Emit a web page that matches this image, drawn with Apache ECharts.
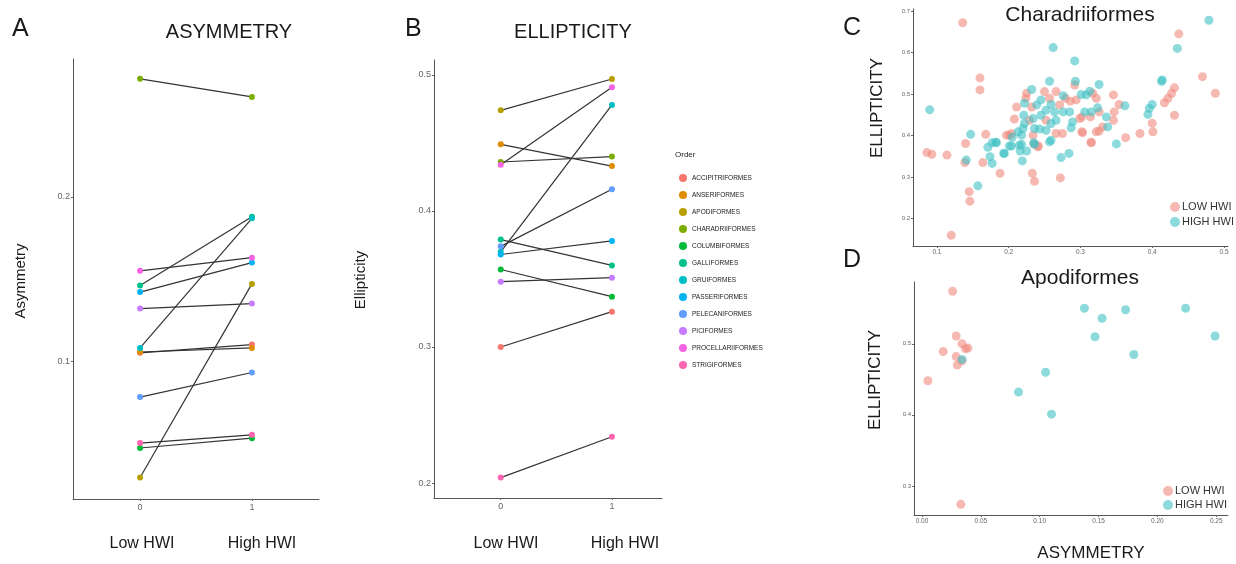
<!DOCTYPE html>
<html>
<head>
<meta charset="utf-8">
<script src="https://cdn.jsdelivr.net/npm/echarts@6/dist/echarts.min.js"></script>
<style>
html,body{margin:0;padding:0;background:#fff;}
#chart{width:1236px;height:564px;}
</style>
</head>
<body>
<div id="chart"></div>
<script>
// ---------- DATA ----------
const orders = ['ACCIPITRIFORMES','ANSERIFORMES','APODIFORMES','CHARADRIIFORMES','COLUMBIFORMES','GALLIFORMES','GRUIFORMES','PASSERIFORMES','PELECANIFORMES','PICIFORMES','PROCELLARIIFORMES','STRIGIFORMES'];
const orderColors = ['#F8766D','#DE8C00','#B79F00','#7CAE00','#00BA38','#00C08B','#00BFC4','#00B4F0','#619CFF','#C77CFF','#F564E3','#FF64B0'];
const hwiTicks = [0, 1];
const hwiLabels = ['Low HWI', 'High HWI'];

// Panel A: asymmetry (low HWI -> high HWI)
const asymLow  = [0.105, 0.1055, 0.029, 0.272, 0.047, 0.146, 0.108, 0.142, 0.078, 0.132, 0.155, 0.050];
const asymHigh = [0.110, 0.108, 0.147, 0.261, 0.053, 0.188, 0.187, 0.160, 0.093, 0.135, 0.163, 0.055];
const asymTicks = [0.1, 0.2];

// Panel B: ellipticity (low HWI -> high HWI)
const ellipLow  = [0.300, 0.449, 0.474, 0.436, 0.357, 0.379, 0.370, 0.368, 0.374, 0.348, 0.434, 0.204];
const ellipHigh = [0.326, 0.433, 0.497, 0.440, 0.337, 0.360, 0.478, 0.378, 0.416, 0.351, 0.491, 0.234];
const ellipTicks = [0.2, 0.3, 0.4, 0.5];

// Panel C: Charadriiformes [asymmetry, ellipticity]
const charLow = [[0.136,0.672],[0.437,0.645],[0.470,0.542],[0.488,0.502],[0.431,0.515],[0.427,0.502],[0.422,0.490],[0.417,0.479],[0.431,0.449],[0.400,0.430],[0.401,0.409],[0.383,0.405],[0.363,0.395],[0.346,0.498],[0.354,0.475],[0.347,0.457],[0.346,0.437],[0.160,0.539],[0.160,0.510],
[0.086,0.359],[0.093,0.355],[0.114,0.353],[0.140,0.381],[0.139,0.335],[0.164,0.335],[0.188,0.309],[0.233,0.309],[0.236,0.290],[0.272,0.298],[0.145,0.265],[0.146,0.242],[0.120,0.160],
[0.235,0.380],[0.241,0.373],[0.315,0.383],[0.168,0.403],[0.197,0.401],[0.201,0.401],[0.303,0.407],[0.322,0.409],
[0.208,0.440],[0.211,0.469],[0.224,0.490],[0.225,0.502],[0.232,0.469],[0.250,0.506],[0.257,0.490],[0.266,0.506],[0.279,0.490],[0.286,0.483],[0.292,0.522],[0.294,0.486],[0.317,0.502],[0.322,0.490],[0.326,0.457],[0.314,0.445],[0.302,0.445],[0.299,0.441],[0.331,0.421],[0.326,0.411],[0.302,0.409],[0.315,0.384],[0.271,0.474],[0.252,0.437],[0.266,0.405],[0.275,0.405],[0.234,0.401],[0.229,0.437],[0.241,0.375],[0.204,0.405]];
const charHigh = [[0.479,0.678],[0.435,0.610],[0.262,0.612],[0.292,0.580],[0.090,0.462],[0.413,0.531],[0.257,0.531],[0.293,0.531],[0.326,0.523],[0.232,0.511],
[0.141,0.341],[0.177,0.333],[0.174,0.349],[0.157,0.279],[0.273,0.347],[0.284,0.357],[0.350,0.380],[0.219,0.339],[0.194,0.357],[0.204,0.375],[0.215,0.377],[0.216,0.363],[0.225,0.363],[0.171,0.372],[0.177,0.383],[0.183,0.383],[0.235,0.383],[0.147,0.403],[0.205,0.396],
[0.218,0.401],[0.220,0.417],[0.222,0.429],[0.221,0.449],[0.222,0.478],[0.239,0.474],[0.245,0.486],[0.276,0.496],[0.301,0.499],[0.313,0.507],[0.308,0.498],[0.324,0.467],[0.315,0.457],[0.306,0.457],[0.336,0.445],[0.338,0.421],[0.362,0.472],[0.396,0.466],[0.400,0.475],[0.394,0.451],[0.414,0.534],[0.259,0.429],[0.266,0.437],[0.243,0.416],[0.252,0.413],[0.259,0.389],[0.287,0.419],[0.289,0.433],[0.276,0.457],[0.285,0.457],[0.264,0.457],[0.259,0.475],[0.236,0.417],[0.234,0.441],[0.245,0.449],[0.252,0.461],[0.257,0.385],[0.236,0.379],[0.213,0.409],[0.182,0.384],[0.193,0.357],[0.201,0.375],[0.218,0.379]];
const charXTicks = [0.1, 0.2, 0.3, 0.4, 0.5];
const charYTicks = [0.2, 0.3, 0.4, 0.5, 0.6, 0.7];

// Panel D: Apodiformes [asymmetry, ellipticity]
const apoLow  = [[0.026,0.574],[0.029,0.511],[0.018,0.489],[0.034,0.500],[0.037,0.493],[0.039,0.494],[0.029,0.482],[0.034,0.476],[0.030,0.470],[0.005,0.448],[0.033,0.274]];
const apoHigh = [[0.138,0.550],[0.173,0.548],[0.224,0.550],[0.153,0.536],[0.147,0.510],[0.249,0.511],[0.180,0.485],[0.105,0.460],[0.082,0.432],[0.110,0.401],[0.034,0.478]];
const apoXTicks = [0, 0.05, 0.10, 0.15, 0.20, 0.25];
const apoYTicks = [0.3, 0.4, 0.5];

const groupNames = ['LOW HWI', 'HIGH HWI'];
const groupColors = ['#F08A7E', '#3FC2C4'];

// ---------- CHART ----------
const FONT = 'Liberation Sans, Arial, Helvetica, sans-serif';
const chart = echarts.init(document.getElementById('chart'), null, {renderer: 'canvas'});

function valAxis(gi, min, max, ticks, fs, dec, margin) {
  return {
    type: 'value', gridIndex: gi, min: min, max: max,
    axisLine: {show: true, onZero: false, lineStyle: {color: '#555', width: 1}},
    splitLine: {show: false},
    axisTick: {show: true, length: 2, customValues: ticks, lineStyle: {color: '#666'}},
    axisLabel: {customValues: ticks, fontSize: fs, color: '#666', fontFamily: FONT, margin: margin,
      formatter: v => dec === 0 ? String(Math.round(v)) : Number(v).toFixed(dec)}
  };
}

const series = [];
orders.forEach((name, i) => {
  series.push({
    type: 'line', name: name, xAxisIndex: 0, yAxisIndex: 0,
    data: [[hwiTicks[0], asymLow[i]], [hwiTicks[1], asymHigh[i]]],
    symbol: 'circle', symbolSize: 6,
    lineStyle: {color: '#333', width: 1.2},
    itemStyle: {color: orderColors[i]},
    emphasis: {disabled: true}, silent: true
  });
  series.push({
    type: 'line', name: name, xAxisIndex: 1, yAxisIndex: 1,
    data: [[hwiTicks[0], ellipLow[i]], [hwiTicks[1], ellipHigh[i]]],
    symbol: 'circle', symbolSize: 6,
    lineStyle: {color: '#333', width: 1.2},
    itemStyle: {color: orderColors[i]},
    emphasis: {disabled: true}, silent: true
  });
});
[[charLow, charHigh, 2], [apoLow, apoHigh, 3]].forEach(([lo, hi, idx]) => {
  [lo, hi].forEach((d, k) => {
    series.push({
      type: 'scatter', name: groupNames[k], xAxisIndex: idx, yAxisIndex: idx,
      data: d, symbolSize: 9,
      itemStyle: {color: groupColors[k], opacity: 0.6},
      emphasis: {disabled: true}, silent: true
    });
  });
});

function txt(text, x, y, size, opts) {
  opts = opts || {};
  return {
    type: 'text', x: x, y: y, rotation: opts.rot || 0, silent: true,
    style: {text: text, fill: opts.fill || '#1a1a1a', font: size + 'px ' + FONT,
      align: opts.align || 'center', verticalAlign: 'middle'}
  };
}

const option = {
  animation: false,
  backgroundColor: '#ffffff',
  grid: [
    {left: 73, top: 59, width: 246, height: 440},
    {left: 434, top: 60, width: 228, height: 438},
    {left: 913, top: 9, width: 315, height: 237},
    {left: 914, top: 282, width: 314, height: 233}
  ],
  xAxis: [
    valAxis(0, -0.6, 1.6, hwiTicks, 9, 0, 4),
    valAxis(1, -0.6, 1.45, hwiTicks, 9, 0, 4),
    valAxis(2, 0.0667, 0.5056, charXTicks, 6.5, 1, 3),
    valAxis(3, -0.0068, 0.26, apoXTicks, 6.5, 2, 3)
  ],
  yAxis: [
    valAxis(0, 0.0159, 0.2841, asymTicks, 9, 1, 3),
    valAxis(1, 0.189, 0.511, ellipTicks, 9, 1, 3),
    valAxis(2, 0.134, 0.705, charYTicks, 6, 1, 3),
    valAxis(3, 0.259, 0.587, apoYTicks, 6, 1, 3)
  ],
  legend: [
    {
      orient: 'vertical', left: 674, top: 169, itemWidth: 8, itemHeight: 8, itemGap: 9,
      icon: 'circle', selectedMode: false,
      textStyle: {fontSize: 6.5, color: '#222', fontFamily: FONT},
      data: orders.map((n, i) => ({name: n, icon: 'circle', itemStyle: {color: orderColors[i], borderWidth: 0}}))
    },
    {
      orient: 'vertical', left: 1165, top: 196, itemWidth: 10, itemHeight: 10, itemGap: 3,
      icon: 'circle', selectedMode: false, align: 'left',
      textStyle: {fontSize: 11, color: '#333', fontFamily: FONT, lineHeight: 12, padding: [0, 0, 0, -3]},
      data: groupNames.map((n, i) => ({name: n, itemStyle: {color: groupColors[i], opacity: 0.6}}))
    },
    {
      orient: 'vertical', left: 1158, top: 480, itemWidth: 10, itemHeight: 10, itemGap: 2,
      icon: 'circle', selectedMode: false, align: 'left',
      textStyle: {fontSize: 11, color: '#333', fontFamily: FONT, lineHeight: 12, padding: [0, 0, 0, -3]},
      data: groupNames.map((n, i) => ({name: n, itemStyle: {color: groupColors[i], opacity: 0.6}}))
    }
  ],
  graphic: [
    txt('A', 12, 29, 25, {align: 'left'}),
    txt('ASYMMETRY', 229, 32, 20),
    txt('B', 405, 29, 25, {align: 'left'}),
    txt('ELLIPTICITY', 573, 32, 20),
    txt('C', 843, 28, 25, {align: 'left'}),
    txt('Charadriiformes', 1080, 15, 21),
    txt('D', 843, 260, 25, {align: 'left'}),
    txt('Apodiformes', 1080, 278, 21),
    txt('Order', 675, 155, 8, {align: 'left'}),
    txt(hwiLabels[0], 142, 544, 16),
    txt(hwiLabels[1], 262, 544, 16),
    txt(hwiLabels[0], 506, 544, 16),
    txt(hwiLabels[1], 625, 544, 16),
    txt('Asymmetry', 21, 281, 15, {rot: Math.PI / 2}),
    txt('Ellipticity', 361, 280, 15, {rot: Math.PI / 2}),
    txt('ELLIPTICITY', 877, 108, 17, {rot: Math.PI / 2}),
    txt('ELLIPTICITY', 875, 380, 17, {rot: Math.PI / 2}),
    txt('ASYMMETRY', 1091, 553, 17)
  ],
  series: series
};
chart.setOption(option);
</script>
</body>
</html>
